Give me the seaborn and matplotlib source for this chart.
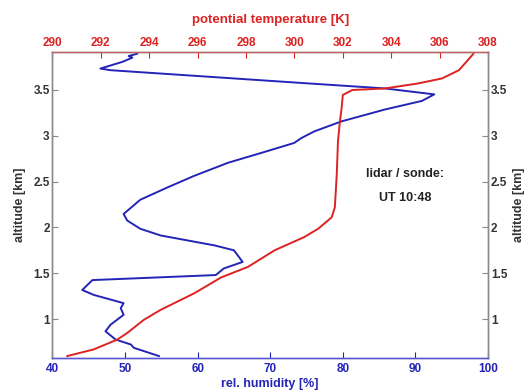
import matplotlib
matplotlib.use("Agg")
import matplotlib.pyplot as plt
import seaborn as sns
import pandas as pd

sns.set_theme(style="white")
plt.rcParams["font.family"] = ["Liberation Sans", "DejaVu Sans"]

# Relative humidity profile (lidar)
rh_altitude = [3.896, 3.871, 3.853, 3.806, 3.734, 3.716, 3.571, 3.517, 3.452, 3.381,
               3.287, 3.157, 3.049, 2.976, 2.922, 2.814, 2.706, 2.562, 2.435, 2.302,
               2.147, 2.075, 1.985, 1.912, 1.858, 1.804, 1.750, 1.623, 1.552, 1.480,
               1.425, 1.317, 1.263, 1.173, 1.119, 1.046, 0.938, 0.866, 0.776, 0.722,
               0.686, 0.595]
rh_value = [51.7, 50.5, 51.0, 49.6, 46.6, 48.0, 75.4, 85.8, 92.6, 90.9,
            85.8, 79.8, 76.1, 74.3, 73.3, 68.8, 64.2, 59.5, 55.8, 52.1,
            49.8, 50.3, 52.1, 54.9, 58.6, 62.3, 65.0, 66.2, 63.6, 62.5,
            45.5, 44.1, 45.7, 49.8, 49.4, 49.8, 48.0, 47.3, 48.7, 50.8,
            51.2, 54.7]

# Potential temperature profile (sonde)
theta_altitude = [3.896, 3.806, 3.716, 3.626, 3.571, 3.517, 3.500, 3.446, 3.300, 3.157,
                  2.940, 2.580, 2.219, 2.110, 1.985, 1.894, 1.750, 1.569, 1.454, 1.281,
                  1.100, 0.992, 0.848, 0.776, 0.668, 0.595]
theta_value = [307.4, 307.1, 306.8, 306.1, 305.1, 303.75, 302.4, 302.0, 301.95, 301.88,
               301.8, 301.75, 301.67, 301.54, 300.98, 300.4, 299.18, 298.08, 296.97, 295.86,
               294.47, 293.78, 293.09, 292.68, 291.70, 290.6]

rh_ticks = [40, 50, 60, 70, 80, 90, 100]
theta_ticks = [290, 292, 294, 296, 298, 300, 302, 304, 306, 308]
alt_ticks = [1, 1.5, 2, 2.5, 3, 3.5]
alt_ticklabels = ["1", "1.5", "2", "2.5", "3", "3.5"]

blue = "#2424b8"
red = "#dd2222"
grey = "#8a8a8a"
dark = "#333333"

rh_df = pd.DataFrame({"rh": rh_value, "alt": rh_altitude})
th_df = pd.DataFrame({"theta": theta_value, "alt": theta_altitude})

fig = plt.figure(figsize=(5.28, 3.92), dpi=100)
ax = fig.add_axes([0.0994, 0.088, 0.8248, 0.7806])
ax2 = ax.twiny()

sns.lineplot(data=rh_df, x="rh", y="alt", sort=False, estimator=None,
             color=blue, linewidth=1.4, ax=ax)
sns.lineplot(data=th_df, x="theta", y="alt", sort=False, estimator=None,
             color=red, linewidth=1.4, ax=ax2)

ax.set_xlim(40, 100)
ax2.set_xlim(290, 308)
ax.set_ylim(0.58, 3.92)

ax.set_xticks(rh_ticks)
ax.set_xticklabels([str(t) for t in rh_ticks], color=blue, fontweight="bold", fontsize=8.5)
ax2.set_xticks(theta_ticks)
ax2.set_xticklabels([str(t) for t in theta_ticks], color=red, fontweight="bold", fontsize=8.5)
ax.set_yticks(alt_ticks)
ax.set_yticklabels(alt_ticklabels, color=dark, fontweight="bold", fontsize=8.5)

ax.tick_params(axis="both", direction="in", length=4, width=0.8, pad=2,
               left=True, right=True, bottom=True, labelright=True, colors=grey)
ax.tick_params(axis="y", labelcolor=dark)
ax.tick_params(axis="x", labelcolor=blue, color=blue, pad=4)
ax2.tick_params(axis="x", direction="in", length=4, width=0.8, pad=2,
                top=True, labelcolor=red, color=red)

ax.set_xlabel("rel. humidity [%]", color=blue, fontweight="bold", fontsize=9, labelpad=2)
ax2.set_xlabel("potential temperature [K]", color=red, fontweight="bold", fontsize=9.5, labelpad=10)
ax.set_ylabel("altitude [km]", color=dark, fontweight="bold", fontsize=9, labelpad=5)

# Right-hand altitude label
ax.text(1.072, 0.5, "altitude [km]", transform=ax.transAxes, rotation=90,
        ha="center", va="center", color=dark, fontweight="bold", fontsize=9)

for name, sp in ax.spines.items():
    sp.set_linewidth(1.0)
    sp.set_color(grey)
ax.spines["bottom"].set_color("#5a5ad0")
for name, sp in ax2.spines.items():
    sp.set_linewidth(1.0)
    sp.set_color(grey)
ax2.spines["top"].set_color("#c06060")
ax2.spines["bottom"].set_color("#5a5ad0")

ax.text(0.810, 0.600, "lidar / sonde:", transform=ax.transAxes, ha="center", va="center",
        color="#222222", fontweight="bold", fontsize=9)
ax.text(0.810, 0.522, "UT 10:48", transform=ax.transAxes, ha="center", va="center",
        color="#222222", fontweight="bold", fontsize=9)

fig.savefig("out.png", dpi=100)
